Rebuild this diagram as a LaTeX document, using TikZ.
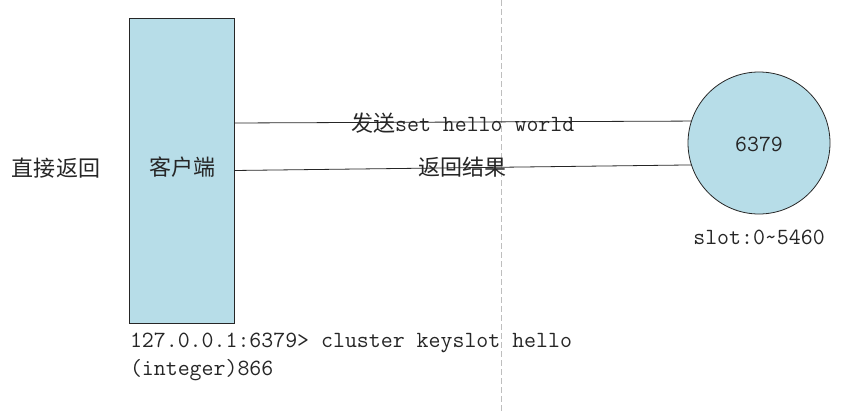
\documentclass[tikz,border=0pt]{standalone}
\usepackage{fontspec}
\newfontfamily\cjk{Noto Sans CJK SC}
\definecolor{boxblue}{RGB}{183,221,232}
\definecolor{dashgray}{RGB}{190,190,190}
\begin{document}
\begin{tikzpicture}[x=1pt,y=-1pt,
  txt/.style={inner sep=0pt,outer sep=0pt,text=black!85},
  cjktxt/.style={txt,font=\cjk\fontsize{22}{26}\selectfont},
  monotxt/.style={txt,font=\ttfamily\fontsize{23.2}{27}\selectfont},
  link/.style={draw=black!85,line width=0.8pt}]
\useasboundingbox (0,0) rectangle (861,412);
\draw[dashgray,dashed,line width=0.8pt,dash pattern=on 6pt off 3pt] (501,0) -- (501,412);
\node[draw=black!85,fill=boxblue,line width=0.8pt,minimum width=105pt,minimum height=305pt,inner sep=0pt,outer sep=0pt] (client) at (181.5,170.5) {};
\node[cjktxt] (clientlbl) at (182,167) {客户端};
\node[draw=black!85,fill=boxblue,line width=0.8pt,circle,minimum size=142pt,inner sep=0pt,outer sep=0pt] (srv) at (759,143) {};
\node[monotxt] (port) at (759,144) {6379};
\node[monotxt] (slot) at (759,237) {slot:0\string~5460};
\node[cjktxt] (direct) at (56,168) {直接返回};
\coordinate (cup) at ([yshift=47.5pt]client.east);
\draw[link] (cup) -- (srv.162.8) node[midway,monotxt,yshift=-1pt] (send) {{\cjk\fontsize{22}{26}\selectfont 发送}set hello world};
\draw[link] (client.east) -- (srv.198.9) node[pos=0.5,cjktxt,yshift=1pt] (ret) {返回结果};
\node[monotxt,anchor=west] (cmd1) at (130,343) {127.0.0.1:6379> cluster keyslot hello};
\node[monotxt,anchor=west] (cmd2) at (130,370) {(integer)866};
\end{tikzpicture}
\end{document}
